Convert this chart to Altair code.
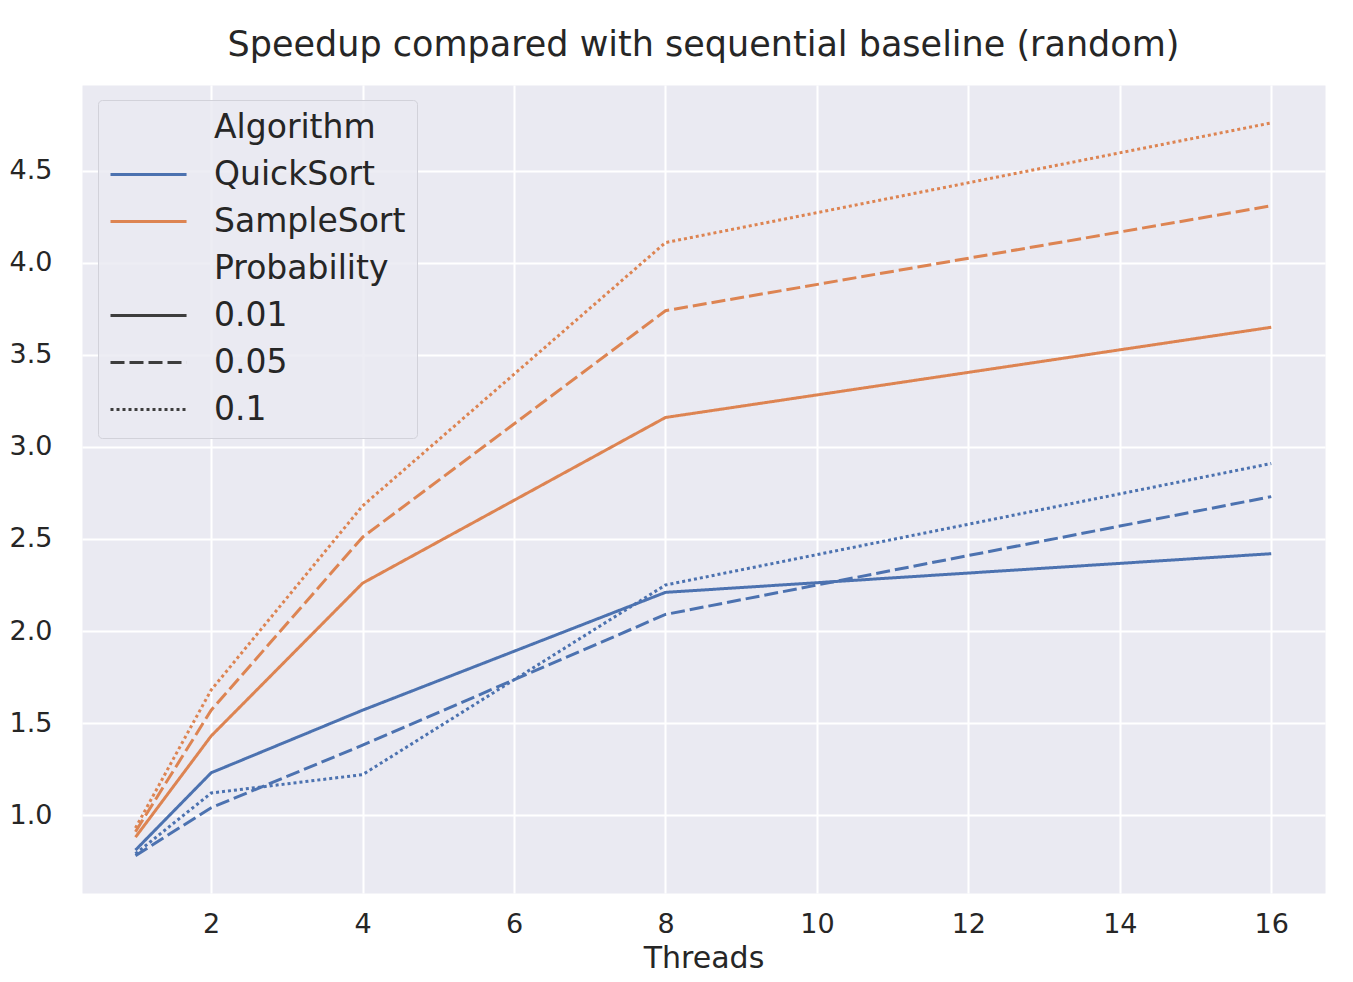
import altair as alt
import pandas as pd

threads = [1, 2, 4, 8, 16]
algorithms = ["QuickSort", "SampleSort"]
probabilities = ["0.01", "0.05", "0.1"]

quick_001 = [0.81, 1.23, 1.57, 2.21, 2.42]
quick_005 = [0.78, 1.04, 1.38, 2.09, 2.73]
quick_01 = [0.79, 1.12, 1.22, 2.25, 2.91]
sample_001 = [0.88, 1.43, 2.26, 3.16, 3.65]
sample_005 = [0.91, 1.57, 2.51, 3.74, 4.31]
sample_01 = [0.93, 1.68, 2.68, 4.11, 4.76]

# legend entries (seaborn-style: section titles are entries without a line)
legend_entries = ["Algorithm", "QuickSort", "SampleSort", "Probability", "0.01", "0.05", "0.1"]
legend_colors = ["transparent", "#4c72b0", "#dd8452", "transparent", "#3d3d3d", "#3d3d3d", "#3d3d3d"]
legend_dashes = [[1, 0], [1, 0], [1, 0], [1, 0], [1, 0], [14, 5], [3, 3]]

series = {
    ("QuickSort", "0.01"): quick_001,
    ("QuickSort", "0.05"): quick_005,
    ("QuickSort", "0.1"): quick_01,
    ("SampleSort", "0.01"): sample_001,
    ("SampleSort", "0.05"): sample_005,
    ("SampleSort", "0.1"): sample_01,
}

rows = []
for (alg, prob), vals in series.items():
    for t, v in zip(threads, vals):
        rows.append({"Threads": t, "Speedup": v, "Algorithm": alg, "Probability": prob})
df = pd.DataFrame(rows)
df_legend = pd.DataFrame(
    {"Entry": legend_entries, "Threads": [threads[0]] * len(legend_entries), "Speedup": [quick_001[0]] * len(legend_entries)}
)

FONT = "DejaVu Sans"
TXT = "#262626"

x_enc = alt.X(
    "Threads:Q",
    scale=alt.Scale(domain=[0.294, 16.71], nice=False, zero=False),
    axis=alt.Axis(
        values=[2, 4, 6, 8, 10, 12, 14, 16],
        title="Threads",
        labelPadding=18,
        titlePadding=6,
    ),
)
y_enc = alt.Y(
    "Speedup:Q",
    scale=alt.Scale(domain=[0.577, 4.966], nice=False, zero=False),
    axis=alt.Axis(
        values=[1.0, 1.5, 2.0, 2.5, 3.0, 3.5, 4.0, 4.5],
        format=".1f",
        labelPadding=30,
    ),
    title=None,
)

lines = (
    alt.Chart(df)
    .mark_line(strokeWidth=3, clip=True)
    .encode(
        x=x_enc,
        y=y_enc,
        color=alt.Color(
            "Algorithm:N",
            scale=alt.Scale(domain=algorithms, range=["#4c72b0", "#dd8452"]),
            legend=None,
        ),
        strokeDash=alt.StrokeDash(
            "Probability:N",
            scale=alt.Scale(domain=probabilities, range=[[1, 0], [14, 5], [3, 3]]),
            legend=None,
        ),
    )
)

leg = alt.Legend(
    title=None,
    orient="none",
    legendX=16,
    legendY=15,
    symbolType="M-1,0H4.07",
    symbolSize=900,
    symbolStrokeWidth=3,
    symbolFillColor="transparent",
    labelOffset=72,
    labelFont=FONT,
    labelFontSize=33,
    labelColor=TXT,
    labelLimit=500,
    rowPadding=13,
    padding=11,
    fillColor="rgba(234,234,242,0.85)",
    strokeColor="#d2d2da",
    cornerRadius=4,
)

legend_layer = (
    alt.Chart(df_legend)
    .transform_filter("false")
    .mark_line(strokeWidth=3)
    .encode(
        x=x_enc,
        y=y_enc,
        color=alt.Color(
            "Entry:N",
            scale=alt.Scale(domain=legend_entries, range=legend_colors),
            legend=leg,
        ),
        strokeDash=alt.StrokeDash(
            "Entry:N",
            scale=alt.Scale(domain=legend_entries, range=legend_dashes),
            legend=leg,
        ),
    )
)

chart = (
    alt.layer(lines, legend_layer)
    .resolve_scale(color="independent", strokeDash="independent")
    .properties(
        width=1243,
        height=808,
        title=alt.TitleParams(
            "Speedup compared with sequential baseline (random)",
            font=FONT,
            fontSize=35,
            fontWeight="normal",
            color=TXT,
            offset=22,
        ),
        autosize=alt.AutoSizeParams(type="none"),
        padding={"left": 74, "top": 77, "right": 20, "bottom": 81},
    )
    .configure_view(fill="#eaeaf2", stroke="transparent")
    .configure_axis(
        domain=False,
        ticks=False,
        grid=True,
        gridColor="white",
        gridWidth=2,
        labelFont=FONT,
        labelFontSize=27,
        labelColor=TXT,
        titleFont=FONT,
        titleFontSize=30,
        titleFontWeight="normal",
        titleColor=TXT,
    )
)

chart.save("out.html", embed_options={"renderer": "svg", "actions": False})
